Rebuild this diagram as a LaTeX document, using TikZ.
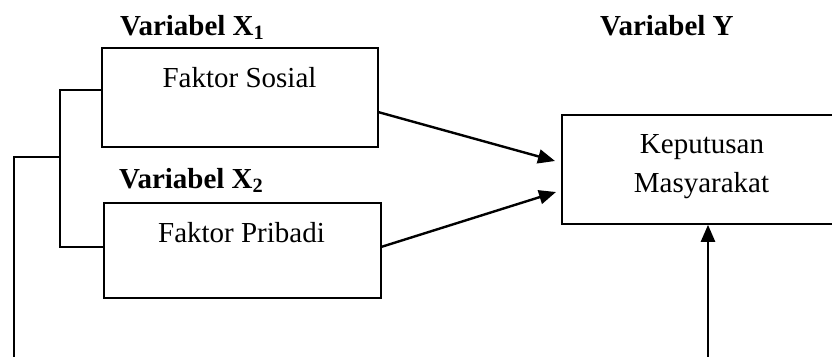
\documentclass[tikz,border=0pt]{standalone}
\usepackage{fontspec}
\setmainfont{Liberation Serif}
\usetikzlibrary{arrows.meta}
\begin{document}
\begin{tikzpicture}[x=1pt,y=-1pt,
  box/.style={draw,line width=1.6pt,inner sep=0pt,minimum width=#1},
  txt/.style={font=\fontsize{29}{34}\selectfont,anchor=base,inner sep=0pt},
  lbl/.style={font=\fontsize{29}{34}\selectfont\bfseries,anchor=base west,inner sep=0pt},
  wire/.style={line width=1.6pt},
  arr/.style={line width=2.4pt,-{Triangle[length=17pt,width=14pt]}}]
\useasboundingbox (0,0) rectangle (832,356);
\clip (0,0) rectangle (832,356);
% boxes
\node[box=276pt,minimum height=99pt] (s) at (240,97.5) {};
\node[box=277pt,minimum height=95pt] (p) at (242.5,250.5) {};
\node[box=340pt,minimum height=109pt] (k) at (732,169.5) {};
% texts
\node[txt] (st) at (239.5,87) {Faktor Sosial};
\node[txt] (pt) at (241.5,242) {Faktor Pribadi};
\node[txt] (k1) at (702,153) {Keputusan};
\node[txt] (k2) at (701.5,192) {Masyarakat};
\node[lbl] (x1) at (120,35) {Variabel X\textsubscript{1}};
\node[lbl] (x2) at (119,188) {Variabel X\textsubscript{2}};
\node[lbl] (y) at (600,35) {Variabel Y};
% coordinates
\coordinate (b1) at (60,90);
\coordinate (b2) at (60,247);
\coordinate (bm) at (60,157);
\coordinate (l1) at (14,157);
\coordinate (l2) at (14,360);
\coordinate (r2) at (708,360);
\coordinate (a1s) at (378,112);
\coordinate (a1e) at (555,161);
\coordinate (a2s) at (381,247);
\coordinate (a2e) at (556,192);
% connectors
\draw[wire] (s.west |- b1) -- (b1) -- (b2) -- (p.west |- b2);
\draw[wire] (bm) -- (l1) -- (l2);
\draw[arr] (a1s) -- (a1e);
\draw[arr] (a2s) -- (a2e);
\draw[arr] (r2) -- (r2 |- k.south);
\end{tikzpicture}
\end{document}
